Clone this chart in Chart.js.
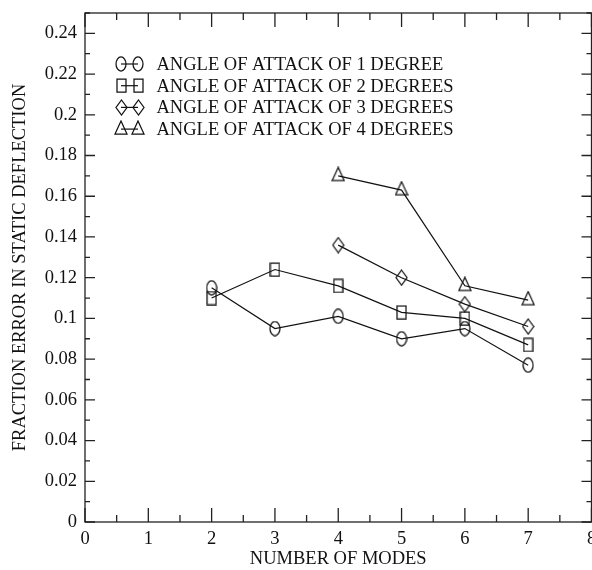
<!DOCTYPE html>
<html>
<head>
<meta charset="utf-8">
<script src="https://cdn.jsdelivr.net/npm/chart.js@4.4.1/dist/chart.umd.min.js"></script>
<style>
  html, body { margin: 0; padding: 0; background: #fff; overflow: hidden; }
</style>
</head>
<body>
<canvas id="js-chart-modes" width="600" height="570"></canvas>
<script>
// Values
const modesAll = [2, 3, 4, 5, 6, 7];
const modesHigh = [4, 5, 6, 7];
const err1deg = [0.115, 0.095, 0.101, 0.090, 0.095, 0.077];
const err2deg = [0.110, 0.124, 0.116, 0.103, 0.100, 0.087];
const err3deg = [0.136, 0.120, 0.107, 0.096];
const err4deg = [0.170, 0.163, 0.116, 0.109];
const seriesLabels = [
  'ANGLE OF ATTACK OF 1 DEGREE',
  'ANGLE OF ATTACK OF 2 DEGREES',
  'ANGLE OF ATTACK OF 3 DEGREES',
  'ANGLE OF ATTACK OF 4 DEGREES'
];

const INK = '#111';
const FONT_FAMILY = '"Liberation Serif", "Times New Roman", serif';

// Hollow marker images (ellipse, square, diamond, triangle)
function makeMarker(shape) {
  const c = document.createElement('canvas');
  const sizes = {circle: [12, 16], square: [11, 15], diamond: [13, 17], triangle: [14, 19]};
  c.width = sizes[shape][0];
  c.height = sizes[shape][1];
  const g = c.getContext('2d');
  g.strokeStyle = INK;
  g.lineWidth = 1.25;
  g.beginPath();
  if (shape === 'circle') {
    g.ellipse(6, 8, 5, 7, 0, 0, Math.PI * 2);
  } else if (shape === 'square') {
    g.rect(1, 1, 9, 13);
  } else if (shape === 'diamond') {
    g.moveTo(6.5, 1); g.lineTo(12, 8.5); g.lineTo(6.5, 16); g.lineTo(1, 8.5); g.closePath();
  } else {
    // apex at top, centroid at canvas centre
    g.moveTo(7, 1); g.lineTo(13, 14); g.lineTo(1, 14); g.closePath();
  }
  g.stroke();
  return c;
}

const markers = ['circle', 'square', 'diamond', 'triangle'].map(makeMarker);

function toPoints(xs, ys) {
  return xs.map((x, i) => ({x: x, y: ys[i]}));
}

const seriesData = [
  toPoints(modesAll, err1deg),
  toPoints(modesAll, err2deg),
  toPoints(modesHigh, err3deg),
  toPoints(modesHigh, err4deg)
];

// Frame plus inward tick marks on all four sides
const frameTicks = {
  id: 'frameTicks',
  afterDatasetsDraw(chart) {
    const {ctx, chartArea: a, scales: {x, y}} = chart;
    ctx.save();
    ctx.strokeStyle = '#222';
    ctx.lineWidth = 1.3;
    ctx.beginPath();
    x.ticks.forEach((t, i) => {
      const px = x.getPixelForValue(t.value);
      ctx.moveTo(px, a.bottom); ctx.lineTo(px, a.bottom - 14);
      ctx.moveTo(px, a.top); ctx.lineTo(px, a.top + 14);
      if (i < x.ticks.length - 1) {
        const pm = x.getPixelForValue((t.value + x.ticks[i + 1].value) / 2);
        ctx.moveTo(pm, a.bottom); ctx.lineTo(pm, a.bottom - 7);
        ctx.moveTo(pm, a.top); ctx.lineTo(pm, a.top + 7);
      }
    });
    y.ticks.forEach((t, i) => {
      const py = y.getPixelForValue(t.value);
      ctx.moveTo(a.left, py); ctx.lineTo(a.left + 10, py);
      ctx.moveTo(a.right, py); ctx.lineTo(a.right - 10, py);
      const next = i < y.ticks.length - 1 ? y.ticks[i + 1].value : t.value + 0.02;
      const pm = y.getPixelForValue((t.value + next) / 2);
      ctx.moveTo(a.left, pm); ctx.lineTo(a.left + 5, pm);
      ctx.moveTo(a.right, pm); ctx.lineTo(a.right - 5, pm);
    });
    ctx.stroke();
    ctx.strokeRect(a.left, a.top, a.right - a.left, a.bottom - a.top);
    ctx.restore();
  }
};

// Legend inside the plot: marker-line-marker, then the label
const insideLegend = {
  id: 'insideLegend',
  afterDraw(chart) {
    const ctx = chart.ctx;
    ctx.save();
    ctx.font = '18.5px ' + FONT_FAMILY;
    ctx.fillStyle = INK;
    ctx.strokeStyle = INK;
    ctx.lineWidth = 1.2;
    ctx.textBaseline = 'alphabetic';
    chart.data.datasets.forEach((ds, i) => {
      const yRow = 64 + i * 21.7;
      ctx.beginPath();
      ctx.moveTo(121, yRow); ctx.lineTo(138, yRow);
      ctx.stroke();
      const m = markers[i];
      ctx.drawImage(m, Math.round(121 - m.width / 2), Math.round(yRow - m.height / 2));
      ctx.drawImage(m, Math.round(138 - m.width / 2), Math.round(yRow - m.height / 2));
      ctx.fillText(ds.label, 156.5, yRow + 5.8);
    });
    ctx.restore();
  }
};

const tickFont = {family: FONT_FAMILY, size: 18.5};
const titleFont = {family: FONT_FAMILY, size: 18.5};

new Chart(document.getElementById('js-chart-modes'), {
  type: 'line',
  data: {
    datasets: seriesData.map((pts, i) => ({
      label: seriesLabels[i],
      data: pts,
      borderColor: INK,
      borderWidth: 1.2,
      tension: 0,
      fill: false,
      pointStyle: markers[i],
      pointRadius: 6,
      pointHoverRadius: 6
    }))
  },
  options: {
    responsive: false,
    animation: false,
    layout: {padding: {top: 13, right: 8.5, left: 0, bottom: 0}},
    plugins: {
      legend: {display: false},
      tooltip: {enabled: false}
    },
    scales: {
      x: {
        type: 'linear',
        min: 0,
        max: 8,
        grid: {display: false, drawTicks: false},
        border: {display: false},
        ticks: {stepSize: 1, padding: 6, color: INK, font: tickFont, autoSkip: false, maxRotation: 0},
        title: {display: true, text: 'NUMBER OF MODES', color: INK, font: titleFont, padding: {top: 0, bottom: 0}},
        afterFit(scale) {
          scale.height = 48;
          scale.paddingLeft = 0;
          scale.paddingRight = 0;
        }
      },
      y: {
        min: 0,
        max: 0.25,
        grid: {display: false, drawTicks: false},
        border: {display: false},
        ticks: {
          stepSize: 0.02,
          includeBounds: false,
          padding: 8,
          color: INK,
          font: tickFont,
          callback: v => String(+v.toFixed(2))
        },
        title: {display: true, text: 'FRACTION ERROR IN STATIC DEFLECTION', color: INK, font: titleFont, padding: {top: 9, bottom: 0}},
        afterFit(scale) {
          scale.width = 85;
          scale.paddingTop = 0;
          scale.paddingBottom = 0;
        }
      }
    }
  },
  plugins: [frameTicks, insideLegend]
});
</script>
</body>
</html>
